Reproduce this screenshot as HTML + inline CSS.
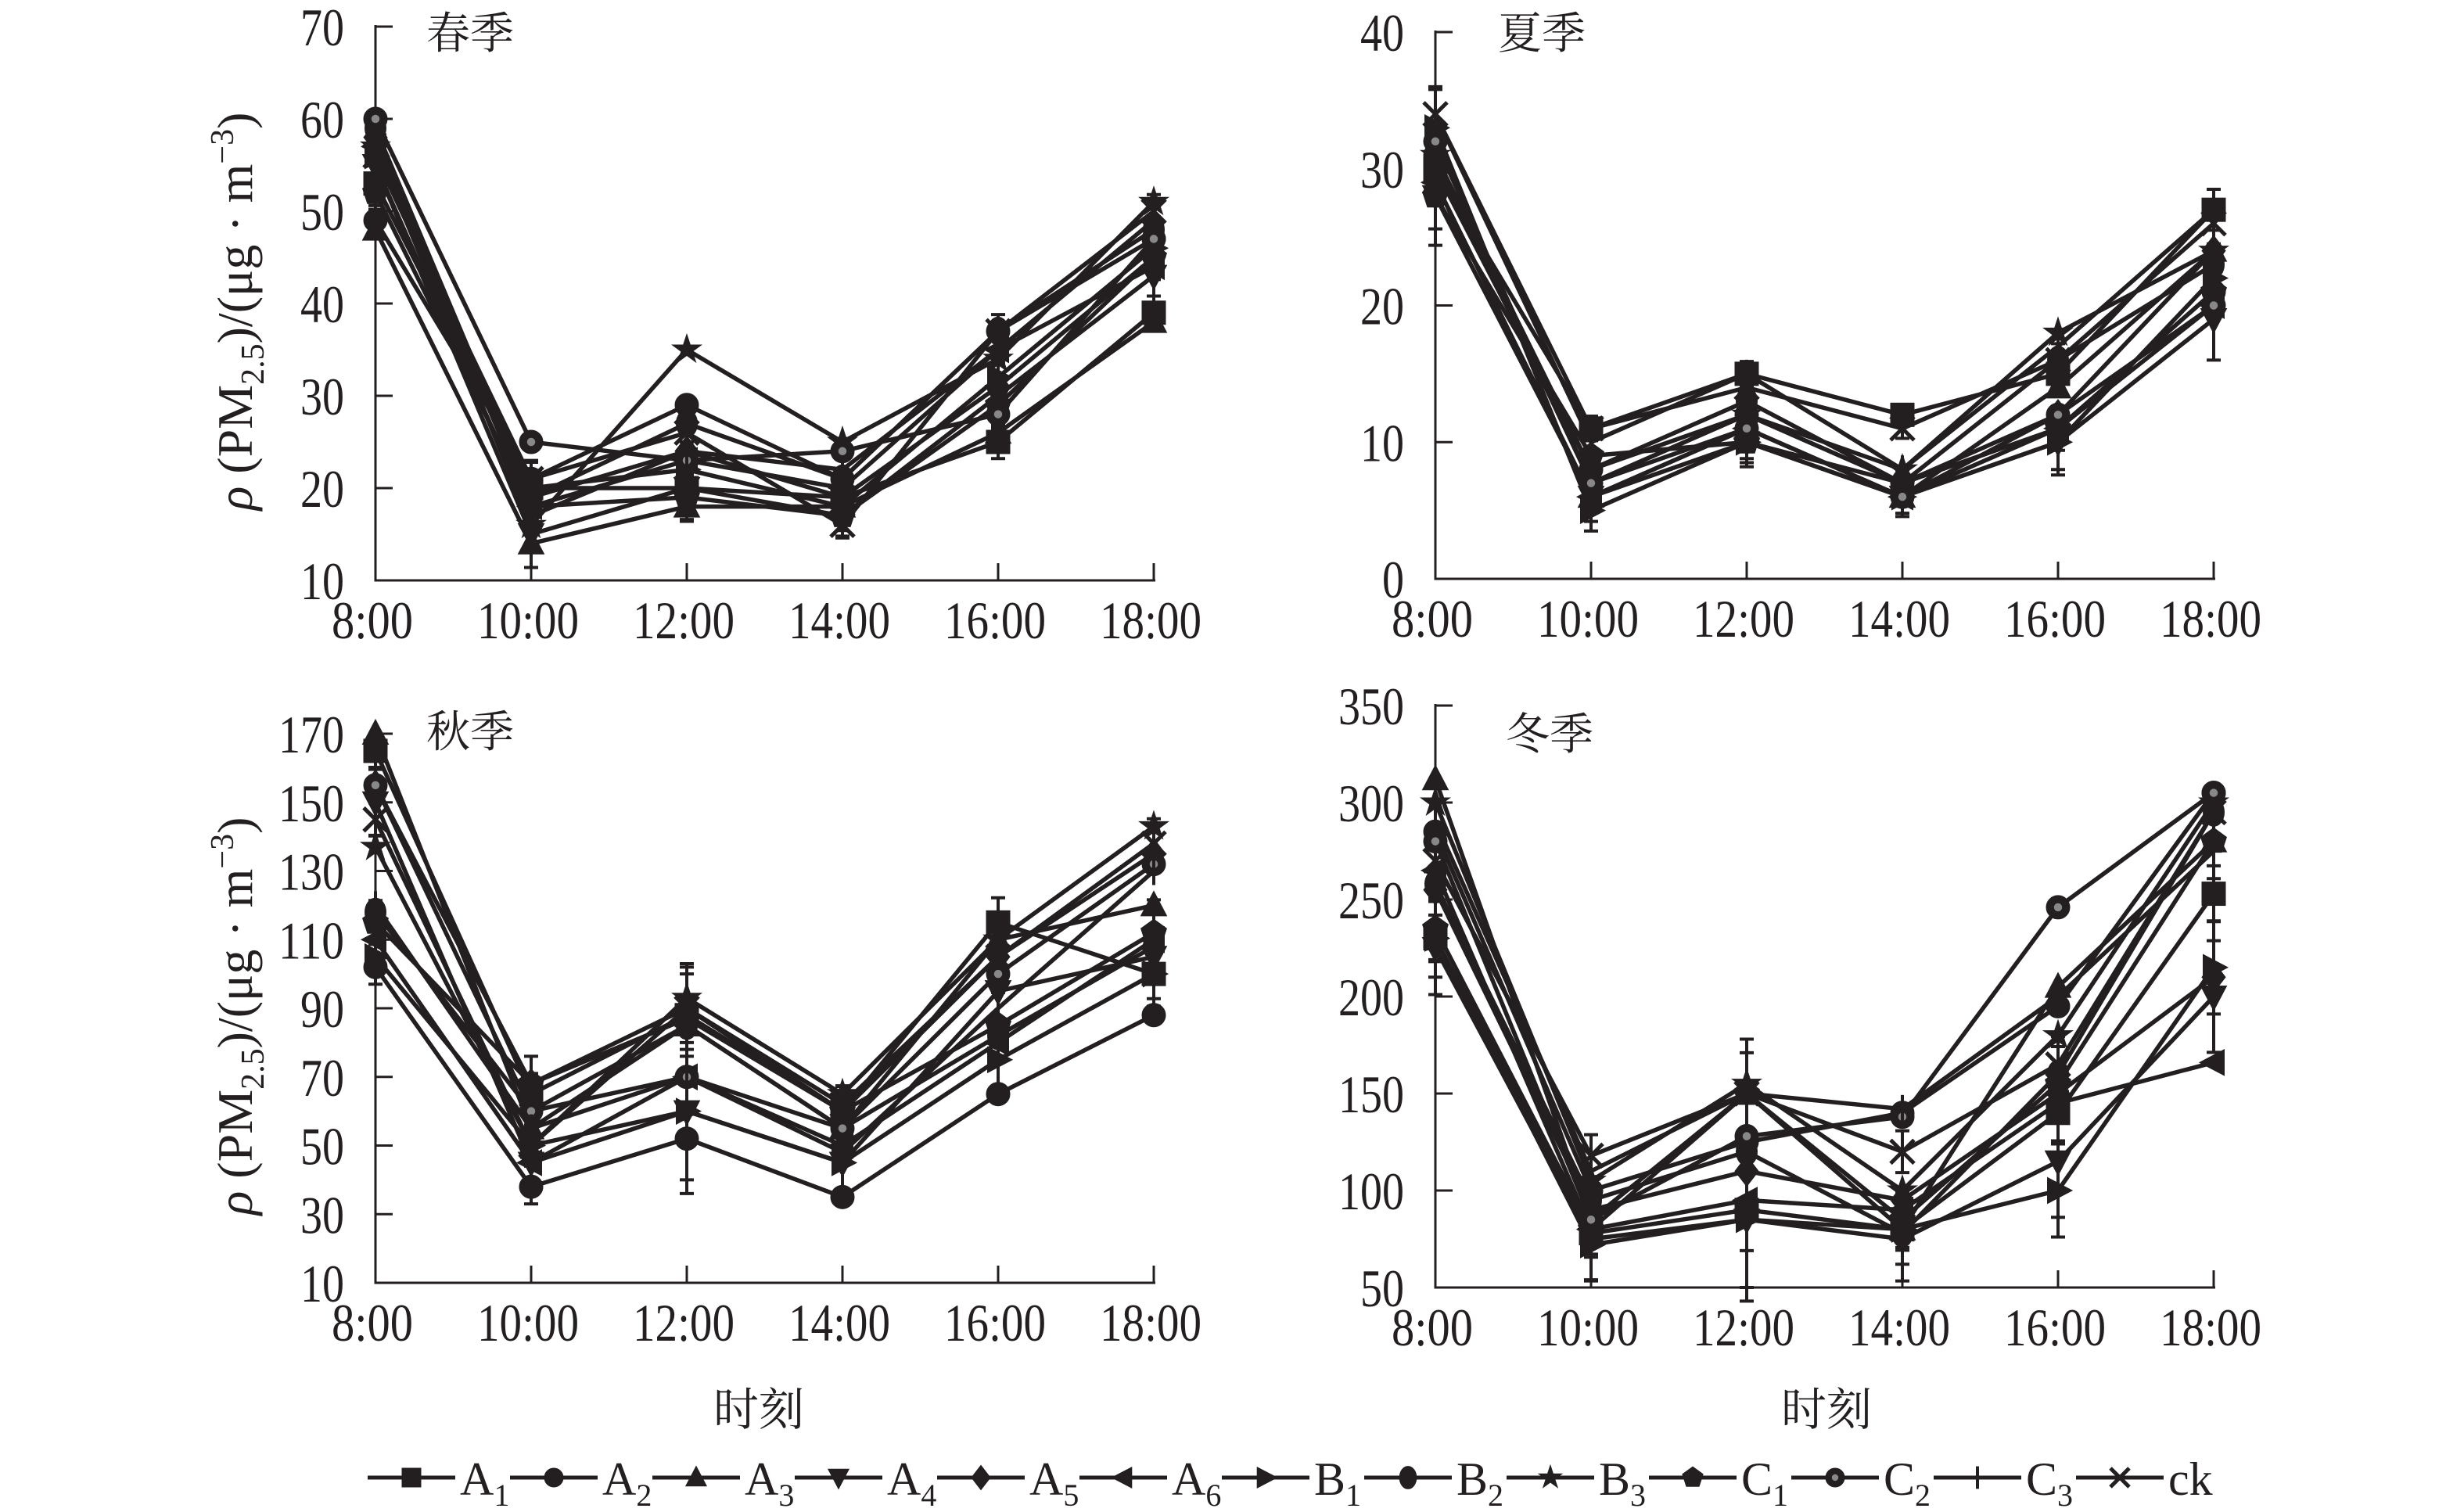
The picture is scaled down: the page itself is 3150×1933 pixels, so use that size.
<!DOCTYPE html>
<html><head><meta charset="utf-8">
<style>
html,body{margin:0;padding:0;background:#fff;}
svg{display:block;}
text{font-family:"Liberation Serif","Noto Serif CJK SC",serif;fill:#231f20;}
</style></head>
<body>
<svg id="s" width="3150" height="1933" viewBox="0 0 3150 1933" xmlns="http://www.w3.org/2000/svg"></svg>
<script>
const S=document.getElementById('s');let h='';
const K='#231f20';
function mk(t,x,y,r){
 r=r||15;let p='fill="'+K+'" stroke="'+K+'"';
 switch(t){
 case 0:return `<rect x="${x-r}" y="${y-r}" width="${2*r}" height="${2*r}" ${p}/>`;
 case 1:return `<circle cx="${x}" cy="${y}" r="${r}" ${p}/>`;
 case 2:return `<polygon points="${x},${y-r*1.2} ${x-r*1.1},${y+r*0.9} ${x+r*1.1},${y+r*0.9}" ${p}/>`;
 case 3:return `<polygon points="${x},${y+r*1.2} ${x-r*1.1},${y-r*0.9} ${x+r*1.1},${y-r*0.9}" ${p}/>`;
 case 4:return `<polygon points="${x},${y-r*1.3} ${x-r},${y} ${x},${y+r*1.3} ${x+r},${y}" ${p}/>`;
 case 5:return `<polygon points="${x-r*1.2},${y} ${x+r*0.9},${y-r*1.1} ${x+r*0.9},${y+r*1.1}" ${p}/>`;
 case 6:return `<polygon points="${x+r*1.2},${y} ${x-r*0.9},${y-r*1.1} ${x-r*0.9},${y+r*1.1}" ${p}/>`;
 case 7:return `<ellipse cx="${x}" cy="${y}" rx="${r*0.9}" ry="${r*1.2}" ${p}/>`;
 case 8:{let s='';for(let i=0;i<10;i++){let a=-Math.PI/2+i*Math.PI/5,rr=i%2?r*0.5:r*1.3;s+=(x+rr*Math.cos(a)).toFixed(1)+','+(y+rr*Math.sin(a)).toFixed(1)+' ';}return `<polygon points="${s}" ${p}/>`;}
 case 9:{let s='';for(let i=0;i<5;i++){let a=-Math.PI/2+i*2*Math.PI/5;s+=(x+r*1.15*Math.cos(a)).toFixed(1)+','+(y+r*1.15*Math.sin(a)).toFixed(1)+' ';}return `<polygon points="${s}" ${p}/>`;}
 case 10:return `<circle cx="${x}" cy="${y}" r="${r}" ${p}/><circle cx="${x}" cy="${y}" r="${r*0.35}" fill="#888"/>`;
 case 11:return `<line x1="${x}" y1="${y-r*1.2}" x2="${x}" y2="${y+r*1.2}" stroke="${K}" stroke-width="4"/>`;
 case 12:return `<path d="M${x-r} ${y-r}L${x+r} ${y+r}M${x-r} ${y+r}L${x+r} ${y-r}" stroke="${K}" stroke-width="5"/>`;
 }}
const panels=[
 {x0:480,st:199,ytop:34,ybot:742,vmin:10,vmax:70,ticks:[10,20,30,40,50,60,70],title:'春季',tx:545,ty:62,ylab:1,
  d:[[53,20,20,19,25,39],[49,21,29,21,37,47],[48,14,18,18,26,38],[55,15,20,17,30,43],[58,19,24,19,31,45],[57,18,23,20,35,44],[56,20,22,18,32,46],[59,19,27,21,37,48],[57,16,35,25,34,51],[52,18,19,17,29,45],[60,25,23,24,28,47],[55,17,24,22,35,49],[56,21,26,16,37,50]],e:[4,3,3,2,3,3]},
 {x0:1835,st:199,ytop:41,ybot:740,vmin:0,vmax:40,ticks:[0,10,20,30,40],title:'夏季',tx:1915,ty:62,
  d:[[30,11,15,12,15,27],[31,8,12,7,11,21],[29,6,11,6,14,24],[28,6,10,6,10,19],[32,7,12,7,12,24],[29,6,11,6,11,20],[33,5,10,6,10,22],[30,8,13,7,16,23],[31,7,12,8,18,24],[28,9,10,7,11,21],[32,7,11,6,12,20],[34,10,15,8,17,27],[34,11,14,11,16,26]],e:[3,1.5,1.5,1.2,2,2.5]},
 {x0:480,st:199,ytop:938,ybot:1640,vmin:10,vmax:170,ticks:[10,30,50,70,90,110,130,150,170],title:'秋季',tx:545,ty:955,ylab:1,
  d:[[165,65,88,60,115,100],[102,38,52,35,65,88],[170,55,85,55,110,120],[150,45,60,45,95,105],[155,68,90,60,105,135],[110,45,70,50,80,110],[105,50,60,45,75,100],[118,60,85,55,82,108],[137,50,93,65,110,143],[115,68,87,60,85,112],[155,60,70,55,100,132],[120,55,70,48,90,130],[145,50,90,62,105,138]],e:[8,10,20,9,12,12]},
 {x0:1835,st:199,ytop:902,ybot:1646,vmin:50,vmax:350,ticks:[50,100,150,200,250,300,350],title:'冬季',tx:1925,ty:958,
  d:[[230,78,90,80,140,253],[285,100,125,140,195,305],[312,85,150,80,205,280],[225,75,85,75,115,200],[255,90,110,95,150,210],[265,80,95,90,145,166],[230,72,85,80,100,215],[258,95,120,78,160,295],[300,105,155,100,180,300],[235,80,150,85,155,280],[280,85,128,138,246,305],[290,110,150,142,200,275],[270,118,150,120,165,295]],e:[20,18,35,18,24,24]}
];
const labs=['8:00','10:00','12:00','14:00','16:00','18:00'];
panels.forEach(P=>{
 const Y=v=>P.ybot-(v-P.vmin)/(P.vmax-P.vmin)*(P.ybot-P.ytop);
 const X=i=>P.x0+i*P.st;
 const xe=X(5);
 h+=`<path d="M${P.x0} ${P.ytop-2}V${P.ybot}H${xe+2}" fill="none" stroke="${K}" stroke-width="3"/>`;
 P.ticks.forEach(t=>{const y=Y(t);h+=`<line x1="${P.x0}" y1="${y}" x2="${P.x0+22}" y2="${y}" stroke="${K}" stroke-width="3"/>`;
  const s=String(t);h+=`<text x="${P.x0-40}" y="${y+24}" font-size="68" text-anchor="end" textLength="${s.length*28}" lengthAdjust="spacingAndGlyphs">${s}</text>`;});
 for(let i=0;i<6;i++){const x=X(i);if(i>0)h+=`<line x1="${x}" y1="${P.ybot}" x2="${x}" y2="${P.ybot-22}" stroke="${K}" stroke-width="3"/>`;
  const w=labs[i].length==4?104:130;h+=`<text x="${x-4}" y="${P.ybot+74}" font-size="68" text-anchor="middle" textLength="${w}" lengthAdjust="spacingAndGlyphs">${labs[i]}</text>`;}
 h+=`<text x="${P.tx}" y="${P.ty}" font-size="56" font-family="Noto Serif CJK SC, serif">${P.title}</text>`;
 P.d.forEach((s,k)=>{if(k%3!=0)return;s.forEach((v,i)=>{const x=X(i),e=P.e[i]*(0.6+0.2*(k%4));const a=Y(v+e),b=Y(v-e);
  h+=`<path d="M${x} ${a}V${b}M${x-9} ${a}H${x+9}M${x-9} ${b}H${x+9}" stroke="${K}" stroke-width="4" fill="none"/>`;});});
 P.d.forEach((s,k)=>{h+=`<polyline points="${s.map((v,i)=>X(i)+','+Y(v).toFixed(1)).join(' ')}" fill="none" stroke="${K}" stroke-width="5.5" stroke-linejoin="round"/>`;});
 P.d.forEach((s,k)=>{s.forEach((v,i)=>{h+=mk(k,X(i),Y(v));});});
 if(P.ylab){const cy=(P.ytop+P.ybot)/2+10;
  h+=`<text transform="translate(322,${cy}) rotate(-90)" font-size="64" text-anchor="middle"><tspan font-style="italic">ρ</tspan> (PM<tspan font-size="42" dy="15">2.5</tspan><tspan dy="-15">)/(μg · m</tspan><tspan font-size="42" dy="-24">−3</tspan><tspan dy="24">)</tspan></text>`;}
});
h+=`<text x="970" y="1822" font-size="58" text-anchor="middle" font-family="Noto Serif CJK SC, serif">时刻</text>`;
h+=`<text x="2335" y="1822" font-size="58" text-anchor="middle" font-family="Noto Serif CJK SC, serif">时刻</text>`;
const names=[['A','1'],['A','2'],['A','3'],['A','4'],['A','5'],['A','6'],['B','1'],['B','2'],['B','3'],['C','1'],['C','2'],['C','3'],['ck','']];
let lx=470;const ly=1889;
names.forEach((n,k)=>{h+=`<line x1="${lx}" y1="${ly}" x2="${lx+112}" y2="${ly}" stroke="${K}" stroke-width="5"/>`;h+=mk(k,lx+56,ly,12);
 h+=`<text x="${lx+118}" y="${ly+22}" font-size="60">${n[0]}<tspan font-size="40" dy="14">${n[1]}</tspan></text>`;lx+=182;});
S.innerHTML=h;
</script>
</body></html>
